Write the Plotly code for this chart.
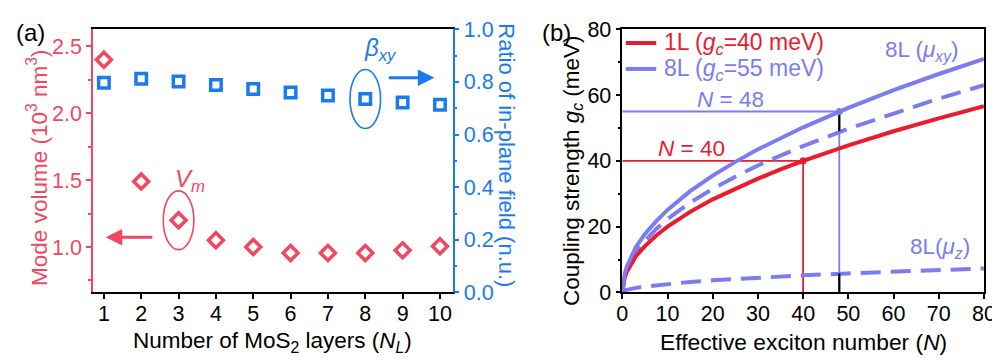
import plotly.graph_objects as go

# ---------------- data: panel (a) ----------------
layers = [1, 2, 3, 4, 5, 6, 7, 8, 9, 10]
mode_volume = [2.40, 1.49, 1.20, 1.05, 1.00, 0.955, 0.955, 0.955, 0.975, 1.005]
beta_xy = [0.797, 0.812, 0.802, 0.788, 0.773, 0.760, 0.748, 0.735, 0.722, 0.713]

# ---------------- data: panel (b) ----------------
N_vals = [0, 0.25, 0.5, 1, 2, 3, 5, 7.5, 10, 15, 20, 25, 30, 35, 40, 50, 60, 70, 80]
g_1L = [0, 3.2, 4.5, 6.3, 8.9, 11.0, 14.1, 17.3, 20.0, 24.5, 28.3, 31.6, 34.6, 37.4, 40.0, 44.7, 49.0, 52.9, 56.6]
g_8L_xy = [0, 4.0, 5.6, 7.9, 11.2, 13.8, 17.8, 21.7, 25.1, 30.8, 35.5, 39.7, 43.5, 47.0, 50.2, 56.1, 61.5, 66.4, 71.0]
g_8L_dash = [0, 3.5, 5.0, 7.0, 10.0, 12.2, 15.7, 19.3, 22.3, 27.3, 31.5, 35.2, 38.6, 41.6, 44.5, 49.8, 54.5, 58.9, 63.0]
g_8L_z = [0, 0.4, 0.6, 0.8, 1.2, 1.4, 1.8, 2.2, 2.6, 3.2, 3.7, 4.1, 4.5, 4.9, 5.2, 5.8, 6.4, 6.9, 7.3]

N_1L, gc_1L = 40, 40
N_8L, gc_8L = 48, 55
g_dash_at_N8L = 49.0
g_z_at_N8L = 5.8

x_ticks_a = [1, 2, 3, 4, 5, 6, 7, 8, 9, 10]

# ---------------- styles ----------------
RED_A = "#F2475E"
BLUE_A = "#1A7AF0"
RED_B = "#EC1A2F"
LAV = "#7B7BF2"
FONT = "Liberation Sans, Arial, sans-serif"
TICK_SIZE = 21.5
TITLE_SIZE = 22.5
W, H = 1000, 360


def px(x):
    return x / W


def py(y):
    return 1 - y / H


fig = go.Figure()

# panel (a)
fig.add_trace(go.Scatter(x=layers, y=mode_volume, mode="markers", xaxis="x", yaxis="y",
                         marker=dict(symbol="diamond-open", size=11.5, color=RED_A,
                                     line=dict(width=3.5, color=RED_A)), showlegend=False))
fig.add_trace(go.Scatter(x=layers, y=beta_xy, mode="markers", xaxis="x", yaxis="y2",
                         marker=dict(symbol="square-open", size=10.5, color=BLUE_A,
                                     line=dict(width=3.5, color=BLUE_A)), showlegend=False))

# panel (b) reference lines
fig.add_trace(go.Scatter(x=[0, N_1L, N_1L], y=[gc_1L, gc_1L, 0], mode="lines", xaxis="x2", yaxis="y3",
                         line=dict(color=RED_B, width=1.8), showlegend=False))
fig.add_trace(go.Scatter(x=[0, N_8L, N_8L], y=[gc_8L, gc_8L, 0], mode="lines", xaxis="x2", yaxis="y3",
                         line=dict(color=LAV, width=1.8), showlegend=False))
# curves
fig.add_trace(go.Scatter(x=N_vals, y=g_8L_z, mode="lines", xaxis="x2", yaxis="y3",
                         line=dict(color=LAV, width=4, dash="20px,10px"), showlegend=False))
fig.add_trace(go.Scatter(x=N_vals, y=g_8L_dash, mode="lines", xaxis="x2", yaxis="y3",
                         line=dict(color=LAV, width=4, dash="20px,10px"), showlegend=False))
fig.add_trace(go.Scatter(x=N_vals, y=g_1L, mode="lines", xaxis="x2", yaxis="y3",
                         line=dict(color=RED_B, width=4), showlegend=False))
fig.add_trace(go.Scatter(x=N_vals, y=g_8L_xy, mode="lines", xaxis="x2", yaxis="y3",
                         line=dict(color=LAV, width=4), showlegend=False))
# black segments at N = 48
fig.add_trace(go.Scatter(x=[N_8L, N_8L], y=[gc_8L, g_dash_at_N8L], mode="lines", xaxis="x2", yaxis="y3",
                         line=dict(color="black", width=2.2), showlegend=False))
fig.add_trace(go.Scatter(x=[N_8L, N_8L], y=[0, g_z_at_N8L], mode="lines", xaxis="x2", yaxis="y3",
                         line=dict(color="black", width=2.2), showlegend=False))
# dots
fig.add_trace(go.Scatter(x=[N_1L], y=[gc_1L], mode="markers", xaxis="x2", yaxis="y3",
                         marker=dict(color=RED_B, size=7), showlegend=False))
fig.add_trace(go.Scatter(x=[N_8L], y=[gc_8L], mode="markers", xaxis="x2", yaxis="y3",
                         marker=dict(color=LAV, size=7), showlegend=False))

ydom = [py(293), py(11)]
tickfont_black = dict(family=FONT, size=TICK_SIZE, color="black")
common = dict(ticks="outside", ticklen=5, tickwidth=1.5, showline=True, linewidth=1.5,
              showgrid=False, zeroline=False, ticklabeloverflow="allow")

fig.update_layout(
    width=W, height=H,
    margin=dict(l=0, r=0, t=0, b=0),
    paper_bgcolor="white", plot_bgcolor="white",
    font=dict(family=FONT, size=TITLE_SIZE, color="black"),
    showlegend=False,
    xaxis=dict(domain=[px(80.5), px(446.7)], range=[0.71, 10.34], tickvals=x_ticks_a,
               tickcolor="black", linecolor="black", mirror=True, ticklabelstandoff=-4,
               tickfont=tickfont_black, anchor="y", **common),
    yaxis=dict(domain=ydom, range=[0.66, 2.628], tick0=0, dtick=0.5, tickformat=".1f",
               tickcolor=RED_A, linecolor=RED_A,
               minor=dict(dtick=0.25, tick0=0, ticks="outside", ticklen=3, tickwidth=1.5, tickcolor=RED_A),
               tickfont=dict(family=FONT, size=TICK_SIZE, color=RED_A), anchor="x", **common),
    yaxis2=dict(overlaying="y", side="right", anchor="x", range=[0, 1.0], tick0=0, dtick=0.2,
                tickformat=".1f", tickcolor=BLUE_A, linecolor=BLUE_A,
                minor=dict(dtick=0.1, tick0=0, ticks="outside", ticklen=3, tickwidth=1.5, tickcolor=BLUE_A),
                tickfont=dict(family=FONT, size=TICK_SIZE, color=BLUE_A), **common),
    xaxis2=dict(domain=[px(619.5), px(987.7)], range=[0, 80], tick0=0, dtick=10,
                tickcolor="black", linecolor="black", mirror=True, ticklabelstandoff=-4,
                tickfont=tickfont_black, anchor="y3", **common),
    yaxis3=dict(domain=ydom, range=[0, 80], tick0=0, dtick=20,
                tickcolor="black", linecolor="black", mirror=True,
                minor=dict(dtick=10, tick0=0, ticks="outside", ticklen=3, tickwidth=1.5, tickcolor="black"),
                tickfont=tickfont_black, anchor="x2", **common),
)

# ellipses around highlighted points (centered on data points)
i_beta = layers.index(8)
i_vm = layers.index(3)
fig.add_shape(type="circle", xref="x", yref="y2",
              x0=layers[i_beta] - 0.41, x1=layers[i_beta] + 0.41,
              y0=beta_xy[i_beta] - 0.112, y1=beta_xy[i_beta] + 0.112,
              line=dict(color=BLUE_A, width=1.6))
fig.add_shape(type="circle", xref="x", yref="y",
              x0=layers[i_vm] - 0.41, x1=layers[i_vm] + 0.41,
              y0=mode_volume[i_vm] - 0.22, y1=mode_volume[i_vm] + 0.22,
              line=dict(color=RED_A, width=1.6))

# legend of panel (b) drawn manually
fig.add_shape(type="line", xref="paper", yref="paper", x0=px(623), x1=px(654), y0=py(25.7), y1=py(25.7),
              line=dict(color=RED_B, width=4))
fig.add_shape(type="line", xref="paper", yref="paper", x0=px(623), x1=px(654), y0=py(53.5), y1=py(53.5),
              line=dict(color=LAV, width=4))

ann = []


def txt(text, x, y, color="black", size=TITLE_SIZE, xanchor="center", angle=0):
    ann.append(dict(text=text, x=px(x), y=py(y), xref="paper", yref="paper", showarrow=False,
                    xanchor=xanchor, yanchor="middle", textangle=angle,
                    font=dict(family=FONT, size=size, color=color)))


txt("(a)", 17, 15, size=24)
txt("(b)", 552, 15, size=24)
txt("Number of MoS<sub>2</sub> layers (<i>N<sub>L</sub></i>)", 263.5, 346)
txt("Mode volume (10<sup>3</sup> nm<sup>3</sup>)", 24, 160, color=RED_A, angle=-90)
txt("Ratio of in-plane field (n.u.)", 502, 146, color=BLUE_A, size=22, angle=90)
txt("Effective exciton number (<i>N</i>)", 804, 346, size=22.8)
txt("Coupling strength <i>g<sub>c</sub></i> (meV)", 569, 162, angle=-90)
txt("<i>β<sub>xy</sub></i>", 373, 33, color=BLUE_A, size=24)
txt("<i>V<sub>m</sub></i>", 179, 173, color=RED_A, size=24)
txt("1L (<i>g<sub>c</sub></i>=40 meV)", 660, 26, color=RED_B, size=23, xanchor="left")
txt("8L (<i>g<sub>c</sub></i>=55 meV)", 660, 54.5, color=LAV, size=23, xanchor="left")
txt("<i>N</i> = 48", 730, 86, color=LAV)
txt("<i>N</i> = 40", 690, 139, color=RED_B)
txt("8L (<i>μ<sub>xy</sub></i>)", 925, 34, color=LAV)
txt("8L(<i>μ<sub>z</sub></i>)", 943, 245, color=LAV)

# arrows in panel (a)
ann.append(dict(x=9.85, y=0.816, xref="x", yref="y2", ax=-47, ay=0, text="", showarrow=True,
                arrowhead=2, arrowsize=1.1, arrowwidth=3, arrowcolor=BLUE_A))
ann.append(dict(x=1.05, y=1.072, xref="x", yref="y", ax=48, ay=0, text="", showarrow=True,
                arrowhead=2, arrowsize=1.1, arrowwidth=3, arrowcolor=RED_A))

fig.update_layout(annotations=ann)

fig.write_html("out.html")
